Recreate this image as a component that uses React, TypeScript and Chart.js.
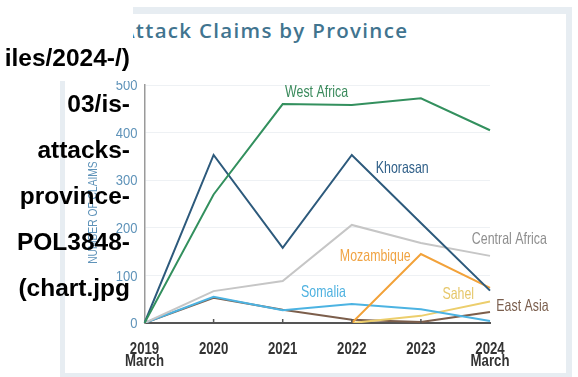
import React, { useEffect, useRef } from "react";
import { Chart, registerables } from "chart.js";

Chart.register(...registerables);

const categories: (string | string[])[] = [["2019", "March"], "2020", "2021", "2022", "2023", ["2024", "March"]];
const yMin = 0;
const yMax = 500;
const yStep = 100;

const westAfrica = [0, 270, 460, 458, 472, 405];
const khorasan = [0, 353, 158, 353, 210, 68];
const centralAfrica = [0, 67, 88, 206, 168, 141];
const mozambique = [null, null, null, 0, 145, 74];
const somalia = [0, 55, 27, 40, 29, 4];
const eastAsia = [0, 53, 28, 7, 2, 23];
const sahel = [null, null, null, 0, 15, 45];

const seriesNames = ["West Africa", "Khorasan", "Central Africa", "Mozambique", "Somalia", "Sahel", "East Asia"];
const seriesData = [westAfrica, khorasan, centralAfrica, mozambique, somalia, sahel, eastAsia];
const lineColors = ["#33905e", "#2d5a7c", "#c6c6c6", "#f2a23a", "#4cb3e2", "#ecce6c", "#7c5e4b"];
const textColors = ["#3a8a5c", "#2f5f88", "#8e8e8e", "#f0a444", "#4fb2e0", "#e6c76a", "#7a5e4d"];
// label anchor positions (category index, value)
const labelIndex = [2.49, 3.73, 5.28, 3.34, 2.59, 4.54, 5.47];
const labelValue = [484, 325, 175, 139, 64, 61, 34];

const chartTitle = "Attack Claims by Province";
const yAxisTitle = "NUMBER OF CLAIMS";
const yAxisTitleValue = 232;
const brokenImageText = ["iles/2024-/)", "03/is-", "attacks-", "province-", "POL3848-", "(chart.jpg"];

const SANS = "'Liberation Sans', Arial, sans-serif";

function drawNarrow(ctx: any, text: string, x: number, y: number, font: string, color: string, sx: number, align: string) {
  ctx.save();
  ctx.translate(x, y);
  ctx.scale(sx, 1);
  ctx.font = font;
  ctx.fillStyle = color;
  ctx.textAlign = align;
  ctx.textBaseline = "middle";
  ctx.fillText(text, 0, 0);
  ctx.restore();
}

const annotationPlugin = {
  id: "annotations",
  afterDraw(chart: any) {
    const { ctx, chartArea, scales } = chart;
    const xs = scales.x;
    const ys = scales.y;
    ctx.save();
    // small upward tick marks on the x axis
    ctx.strokeStyle = "#555";
    ctx.lineWidth = 1.5;
    for (let i = 1; i < xs.ticks.length - 1; i++) {
      const x = xs.getPixelForTick(i);
      ctx.beginPath();
      ctx.moveTo(x, chartArea.bottom - 4);
      ctx.lineTo(x, chartArea.bottom);
      ctx.stroke();
    }
    // x tick labels (condensed)
    xs.ticks.forEach((_t: any, i: number) => {
      const lab = categories[i];
      const lines = Array.isArray(lab) ? lab : [lab];
      const x = xs.getPixelForTick(i);
      lines.forEach((ln, j) => {
        drawNarrow(ctx, ln, x, chartArea.bottom + 26 + j * 12.5, `bold 16.5px ${SANS}`, "#333", 0.8, "center");
      });
    });
    // y tick labels (condensed)
    ys.ticks.forEach((t: any) => {
      const y = ys.getPixelForValue(t.value);
      drawNarrow(ctx, String(t.value), chartArea.left - 7, y + 1, `15.5px ${SANS}`, "#5f93b9", 0.84, "right");
    });
    // series labels
    for (let i = 0; i < seriesNames.length; i++) {
      const x = xs.getPixelForValue(labelIndex[i]);
      const y = ys.getPixelForValue(labelValue[i]);
      drawNarrow(ctx, seriesNames[i], x, y, `16.5px ${SANS}`, textColors[i], 0.75, "center");
    }
    // y axis title
    ctx.save();
    ctx.translate(chartArea.left - 51, ys.getPixelForValue(yAxisTitleValue));
    ctx.rotate(-Math.PI / 2);
    ctx.scale(0.82, 1);
    ctx.font = `12.5px ${SANS}`;
    ctx.textAlign = "center";
    ctx.textBaseline = "middle";
    ctx.fillStyle = "#5f93b9";
    ctx.fillText(yAxisTitle, 0, 0);
    ctx.restore();
    ctx.restore();
  },
};

export default function App() {
  const canvasRef = useRef<HTMLCanvasElement | null>(null);

  useEffect(() => {
    if (!canvasRef.current) return;
    const chart = new Chart(canvasRef.current, {
      type: "line",
      data: {
        labels: categories as any,
        datasets: seriesNames.map((name, i) => ({
          label: name,
          data: seriesData[i] as any,
          borderColor: lineColors[i],
          backgroundColor: lineColors[i],
          borderWidth: 2,
          pointRadius: 0,
          tension: 0,
          fill: false,
          spanGaps: false,
        })),
      },
      options: {
        animation: false,
        responsive: false,
        devicePixelRatio: 1,
        layout: { padding: { left: 80, right: 88, top: 85, bottom: 0 } },
        plugins: {
          legend: { display: false },
          tooltip: { enabled: false },
          title: { display: false },
        },
        scales: {
          x: {
            type: "category",
            offset: false,
            grid: { display: false, drawTicks: false },
            border: { color: "#555", width: 2 },
            ticks: { display: false, maxRotation: 0, autoSkip: false },
            afterFit(scale: any) {
              scale.height = 54;
            },
          },
          y: {
            min: yMin,
            max: yMax,
            grid: {
              drawTicks: false,
              color: (c: any) => (c.tick && c.tick.value === 0 ? "rgba(0,0,0,0)" : "#eef1f4"),
              lineWidth: 1,
            },
            border: { color: "#9a9a9a", width: 1.5 },
            ticks: { display: false, stepSize: yStep },
            afterFit(scale: any) {
              scale.width = 64.5;
            },
          },
        },
      },
      plugins: [annotationPlugin],
    });
    return () => chart.destroy();
  }, []);

  return (
    <div style={{ position: "absolute", left: 0, top: 0, width: 578, height: 377, overflow: "hidden", background: "#fff" }}>
      <div style={{ position: "absolute", left: 60, top: 7, width: 512, height: 380, background: "#e7edf2" }} />
      <div style={{ position: "absolute", left: 65, top: 14, width: 501, height: 359, background: "#fff" }} />
      <div
        style={{
          position: "absolute",
          left: 121,
          top: 17,
          whiteSpace: "nowrap",
          fontFamily: "'Open Sans', sans-serif",
          fontWeight: 600,
          fontSize: 20.5,
          letterSpacing: "1.3px",
          lineHeight: "26px",
          color: "#41748f",
        }}
      >
        {chartTitle}
      </div>
      <canvas ref={canvasRef} width={578} height={377} style={{ position: "absolute", left: 0, top: 0, width: 578, height: 377 }} />
      <div style={{ position: "absolute", left: 0, top: 0, width: 133, height: 81, background: "#fff" }} />
      {brokenImageText.map((t, i) => (
        <div
          key={i}
          style={{
            position: "absolute",
            left: 0,
            width: 130,
            top: 67 + 46 * i - 20.7,
            textAlign: "right",
            whiteSpace: "nowrap",
            fontFamily: "'Liberation Sans', Arial, sans-serif",
            fontWeight: 700,
            fontSize: 24.5,
            lineHeight: "24.5px",
            color: "#000",
          }}
        >
          {t}
        </div>
      ))}
    </div>
  );
}
